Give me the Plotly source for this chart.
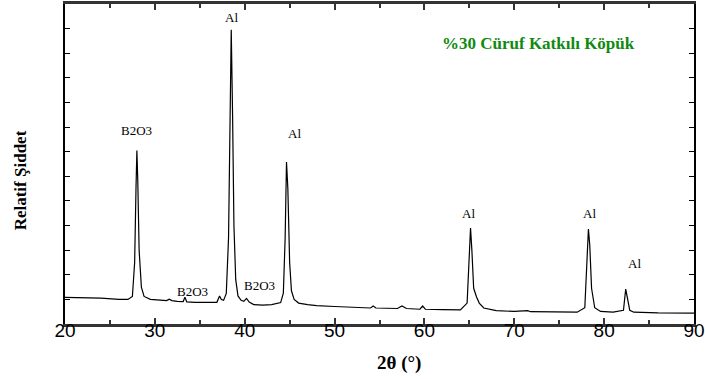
import plotly.graph_objects as go

# XRD trace (2-theta, relative intensity)
two_theta = [20, 22, 24, 26, 27, 27.5, 27.75, 27.9, 28.0, 28.1, 28.25, 28.5, 28.8, 29.5,
             30.5, 31.3, 31.6, 31.9, 32.5, 33.15, 33.35, 33.55, 34.5, 35.5, 36.2, 36.9, 37.2,
             37.4, 37.65, 37.95, 38.2, 38.35, 38.5, 38.65, 38.8, 39.0, 39.25, 39.6, 39.9,
             40.2, 40.5, 41, 42, 43, 44, 44.3, 44.5, 44.65, 44.8, 45.0, 45.2, 45.5, 46, 47,
             48, 50, 52, 54, 54.3, 54.6, 57, 57.5, 58, 59.5, 59.8, 60.1, 62, 64, 64.75,
             65.0, 65.13, 65.28, 65.48, 65.8, 66.1, 66.6, 68, 70, 71.5, 71.8, 74, 77, 77.85,
             78.1, 78.25, 78.4, 78.6, 78.95, 79.6, 81, 82.15, 82.4, 82.6, 82.85, 83.3, 86, 90]
intensity = [1.08, 1.07, 1.05, 1.0, 1.0, 1.12, 2.5, 5.5, 7.05, 5.8, 3.0, 1.5, 1.12, 1.0,
             0.96, 0.95, 1.01, 0.95, 0.92, 0.91, 1.09, 0.9, 0.88, 0.89, 0.9, 0.88, 1.14,
             0.99, 0.96, 1.24, 3.5, 8.0, 11.95, 8.5, 4.0, 1.8, 1.14, 0.96, 0.92,
             1.04, 0.89, 0.79, 0.77, 0.79, 0.87, 1.25, 3.5, 6.58, 5.5, 2.5, 1.35, 1.0, 0.85, 0.79,
             0.75, 0.71, 0.67, 0.65, 0.73, 0.65, 0.63, 0.73, 0.63, 0.6, 0.73, 0.6, 0.58, 0.57, 0.85,
             2.5, 3.9, 3.0, 1.45, 1.1, 0.85, 0.65, 0.54, 0.51, 0.54, 0.5, 0.48, 0.48, 0.66,
             2.5, 3.86, 3.2, 1.45, 0.66, 0.51, 0.48, 0.56, 1.42, 1.05, 0.56, 0.48, 0.45, 0.44]

# Peak labels
label_text = ["B2O3", "B2O3", "Al", "B2O3", "Al", "Al", "Al", "Al"]
label_x = [28.0, 34.2, 38.5, 41.6, 45.5, 64.9, 78.4, 83.4]
label_y = [7.85, 1.34, 12.45, 1.55, 7.75, 4.5, 4.5, 2.44]

fig = go.Figure()
fig.add_trace(go.Scatter(x=two_theta, y=intensity, mode="lines",
                         line=dict(color="black", width=1.2), showlegend=False,
                         hoverinfo="skip"))

for t, x, y in zip(label_text, label_x, label_y):
    fig.add_annotation(x=x, y=y, text=t, showarrow=False, xref="x", yref="y",
                       xanchor="center", yanchor="middle",
                       font=dict(family="Liberation Serif", size=13, color="black"))

fig.add_annotation(x=0.752, y=0.877, xref="paper", yref="paper", showarrow=False,
                   xanchor="center", yanchor="middle",
                   text="<b>%30 Cüruf Katkılı Köpük</b>",
                   font=dict(family="Liberation Serif", size=17, color="#108a10"))
fig.add_annotation(x=0.531, y=-0.122, xref="paper", yref="paper", showarrow=False,
                   xanchor="center", yanchor="middle",
                   text="<b>2θ (°)</b>",
                   font=dict(family="Liberation Serif", size=19, color="black"))
fig.add_annotation(x=-0.071, y=0.45, xref="paper", yref="paper", showarrow=False,
                   xanchor="center", yanchor="middle",
                   text="<b>Relatif Şiddet</b>", textangle=-90,
                   font=dict(family="Liberation Serif", size=17, color="black"))

fig.update_xaxes(range=[20, 90], dtick=10, tick0=20, ticks="inside", ticklen=6,
                 tickwidth=1.5, tickcolor="#333",
                 minor=dict(dtick=5, ticks="inside", ticklen=4, tickcolor="#333"),
                 showline=True, linewidth=2.5, linecolor="#333", mirror="ticks",
                 showgrid=False, zeroline=False, ticklabeloverflow="allow",
                 ticklabelstandoff=-13, automargin=False,
                 tickfont=dict(family="Liberation Sans", size=19, color="black"))
fig.update_yaxes(range=[0, 13], dtick=1, tick0=0, ticks="inside", ticklen=5,
                 tickwidth=1, tickcolor="black", showticklabels=False,
                 showline=True, linewidth=2, linecolor="black", mirror="ticks",
                 showgrid=False, zeroline=False, automargin=False)

fig.update_layout(width=705, height=379, margin=dict(l=65, r=11, t=4, b=55),
                  plot_bgcolor="white", paper_bgcolor="white")

fig.write_html("out.html", config={"displayModeBar": False},
               post_script="document.body.style.margin='0';document.body.style.overflow='hidden';")
